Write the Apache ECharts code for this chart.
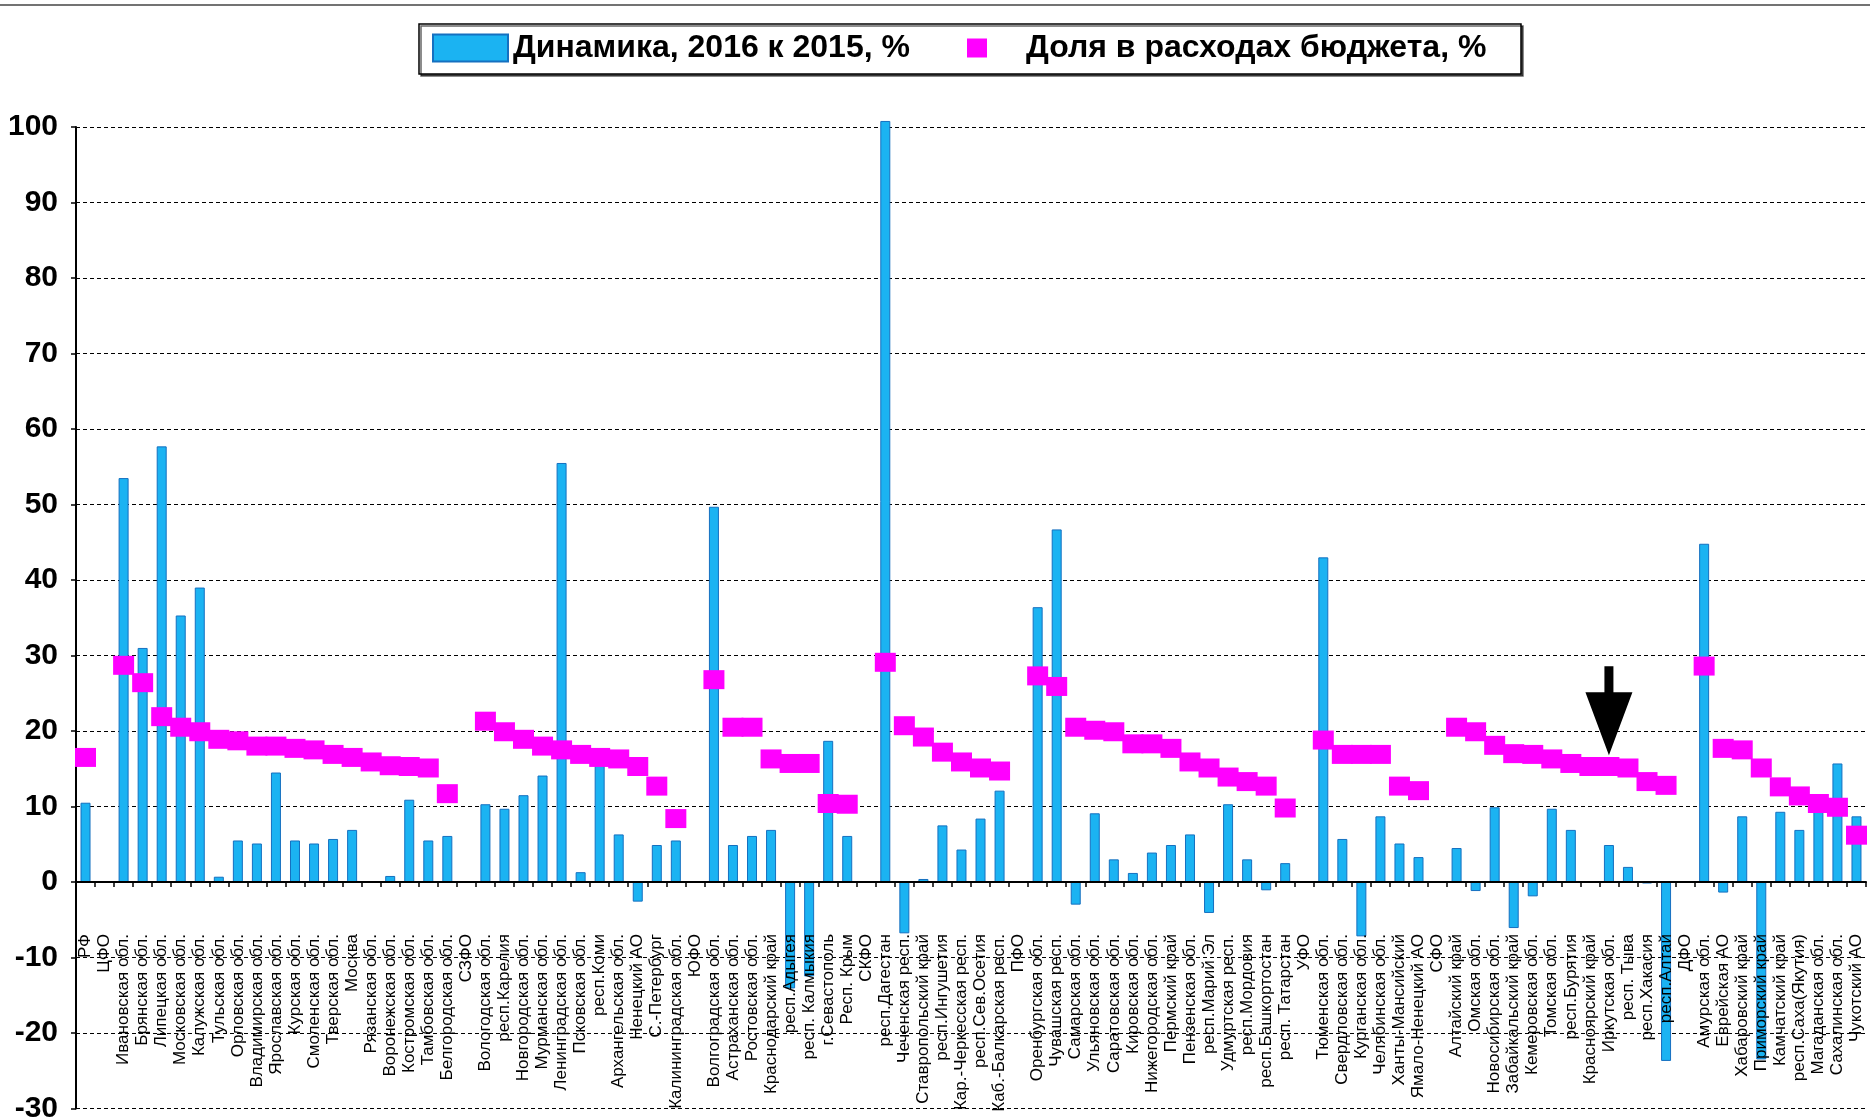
<!DOCTYPE html>
<html lang="ru">
<head>
<meta charset="utf-8">
<title>Динамика и доля в расходах бюджета</title>
<script src="https://cdn.jsdelivr.net/npm/echarts@6/dist/echarts.min.js"></script>
<style>
  html, body { margin: 0; padding: 0; background: #fff; }
  #chart { width: 1870px; height: 1117px; }
</style>
</head>
<body>
<div id="chart"></div>
<script>
const regions = [
  "РФ", "ЦФО", "Ивановская обл.", "Брянская обл.", "Липецкая обл.", "Московская обл.",
  "Калужская обл.", "Тульская обл.", "Орловская обл.", "Владимирская обл.", "Ярославская обл.",
  "Курская обл.", "Смоленская обл.", "Тверская обл.", "Москва", "Рязанская обл.",
  "Воронежская обл.", "Костромская обл.", "Тамбовская обл.", "Белгородская обл.", "СЗФО",
  "Вологодская обл.", "респ.Карелия", "Новгородская обл.", "Мурманская обл.",
  "Ленинградская обл.", "Псковская обл.", "респ.Коми", "Архангельская обл.", "Ненецкий АО",
  "С.-Петербург", "Калининградская обл.", "ЮФО", "Волгоградская обл.", "Астраханская обл.",
  "Ростовская обл.", "Краснодарский край", "респ.Адыгея", "респ. Калмыкия", "г.Севастополь",
  "Респ. Крым", "СКФО", "респ.Дагестан", "Чеченская респ.", "Ставропольский край",
  "респ.Ингушетия", "Кар.-Черкесская респ.", "респ.Сев.Осетия", "Каб.-Балкарская респ.", "ПФО",
  "Оренбургская обл.", "Чувашская респ.", "Самарская обл.", "Ульяновская обл.",
  "Саратовская обл.", "Кировская обл.", "Нижегородская обл.", "Пермский край",
  "Пензенская обл.", "респ.Марий Эл", "Удмуртская респ.", "респ.Мордовия",
  "респ.Башкортостан", "респ. Татарстан", "УФО", "Тюменская обл.", "Свердловская обл.",
  "Курганская обл.", "Челябинская обл.", "Ханты-Мансийский", "Ямало-Ненецкий АО", "СФО",
  "Алтайский край", "Омская обл.", "Новосибирская обл.", "Забайкальский край",
  "Кемеровская обл.", "Томская обл.", "респ.Бурятия", "Красноярский край", "Иркутская обл.",
  "респ. Тыва", "респ.Хакасия", "респ.Алтай", "ДФО", "Амурская обл.", "Еврейская АО",
  "Хабаровский край", "Приморский край", "Камчатский край", "респ.Саха(Якутия)",
  "Магаданская обл.", "Сахалинская обл.", "Чукотский АО"
];

// Динамика, 2016 к 2015, %
const dynamics = [
  10.5, null, 53.5, 31.0, 57.7, 35.3, 39.0, 0.7, 5.5, 5.1, 14.5, 5.5, 5.1, 5.7, 6.9, 0,
  0.8, 10.9, 5.5, 6.1, null, 10.3, 9.7, 11.5, 14.1, 55.5, 1.3, 15.7, 6.3, -2.6, 4.9, 5.5,
  null, 49.7, 4.9, 6.1, 6.9, -14.1, -12.5, 18.7, 6.1, null, 100.8, -6.8, 0.4, 7.5, 4.3, 8.4,
  12.1, null, 36.4, 46.7, -3.0, 9.1, 3.0, 1.2, 3.9, 4.9, 6.3, -4.1, 10.3, 3.0, -1.1, 2.5,
  null, 43.0, 5.7, -7.2, 8.7, 5.1, 3.3, null, 4.5, -1.2, 9.9, -6.1, -1.9, 9.7, 6.9, 0,
  4.9, 2.0, -0.2, -23.7, null, 44.8, -1.4, 8.7, -23.5, 9.3, 6.9, 10.2, 15.7, 8.7
];

// Доля в расходах бюджета, %
const budgetShare = [
  16.5, null, 28.7, 26.4, 21.9, 20.5, 19.9, 18.9, 18.7, 18.0, 18.0, 17.7, 17.5, 16.9, 16.5, 15.9,
  15.4, 15.3, 15.1, 11.7, null, 21.3, 19.9, 18.9, 18.0, 17.5, 16.9, 16.5, 16.3, 15.3, 12.7, 8.4,
  null, 26.8, 20.5, 20.5, 16.3, 15.7, 15.7, 10.4, 10.3, null, 29.1, 20.7, 19.2, 17.2, 15.9, 15.1,
  14.7, null, 27.3, 25.9, 20.5, 20.1, 19.9, 18.3, 18.3, 17.7, 15.9, 15.1, 13.9, 13.3, 12.7, 9.8,
  null, 18.8, 16.9, 16.9, 16.9, 12.7, 12.1, null, 20.5, 19.9, 18.1, 17.0, 16.9, 16.3, 15.7, 15.3,
  15.3, 15.1, 13.3, 12.8, null, 28.6, 17.7, 17.5, 15.1, 12.6, 11.4, 10.4, 9.9, 6.2
];

const seriesNames = ["Динамика, 2016 к 2015, %", "Доля в расходах бюджета, %"];

const yMin = -30;
const yMax = 100;

// стрелка над Иркутской областью
const arrowRegion = "Иркутская обл.";
const arrowTipValue = 16.8;

const FONT = "'Liberation Sans', Arial, sans-serif";

const gridTop = 127;
const gridBottom = 8.5;
const plotHeight = 1117 - gridTop - gridBottom;
// расстояние от нижнего края сетки до нулевой линии
const zeroLift = (plotHeight * (0 - yMin)) / (yMax - yMin);

const chart = echarts.init(document.getElementById("chart"));

const option = {
  backgroundColor: "#fff",
  animation: false,
  graphic: [
    {
      type: "line",
      shape: { x1: 0, y1: 5, x2: 1870, y2: 5 },
      style: { stroke: "#444", lineWidth: 1.5 },
      z: 0,
    },
    {
      type: "rect",
      shape: { x: 419, y: 24, width: 1102, height: 50 },
      style: {
        fill: "#fff",
        stroke: "#000",
        lineWidth: 1.5,
        shadowColor: "rgba(0,0,0,0.6)",
        shadowOffsetX: 2,
        shadowOffsetY: 2,
      },
      z: 0,
    },
  ],
  legend: [
    {
      data: [seriesNames[0]],
      left: 432,
      top: 32,
      padding: 0,
      icon: "rect",
      itemWidth: 75,
      itemHeight: 27,
      selectedMode: false,
      textStyle: {
        fontFamily: FONT,
        fontSize: 32,
        fontWeight: "bold",
        color: "#000",
      },
    },
    {
      data: [seriesNames[1]],
      left: 967,
      top: 32,
      padding: 0,
      icon: "rect",
      itemWidth: 20,
      itemHeight: 19,
      selectedMode: false,
      textStyle: {
        fontFamily: FONT,
        fontSize: 32,
        fontWeight: "bold",
        color: "#000",
        padding: [0, 0, 0, 34],
      },
    },
  ],
  grid: {
    left: 76,
    right: 4,
    top: gridTop,
    bottom: gridBottom,
    outerBoundsMode: "none",
  },
  xAxis: {
    type: "category",
    data: regions,
    position: "bottom",
    offset: -zeroLift,
    z: 5,
    axisLine: {
      onZero: false,
      lineStyle: { color: "#000", width: 2 },
    },
    axisTick: {
      show: true,
      length: 5,
      lineStyle: { color: "#000", width: 1.5 },
    },
    axisLabel: {
      show: true,
      interval: 0,
      rotate: 90,
      margin: 52,
      fontFamily: FONT,
      fontSize: 17,
      color: "#000",
    },
    splitLine: { show: false },
  },
  yAxis: {
    type: "value",
    min: yMin,
    max: yMax,
    interval: 10,
    axisLine: {
      show: true,
      lineStyle: { color: "#000", width: 2 },
    },
    axisTick: {
      show: true,
      length: 5,
      lineStyle: { color: "#000", width: 1.5 },
    },
    axisLabel: {
      margin: 18,
      fontFamily: FONT,
      fontSize: 30,
      fontWeight: "bold",
      color: "#000",
    },
    splitLine: {
      show: true,
      lineStyle: { color: "#000", width: 1, type: [4, 3] },
    },
  },
  series: [
    {
      name: seriesNames[0],
      type: "bar",
      data: dynamics,
      barWidth: 10,
      clip: false,
      itemStyle: {
        color: "#1BB3F2",
        borderColor: "#1570C0",
        borderWidth: 1,
      },
    },
    {
      name: seriesNames[1],
      type: "scatter",
      data: budgetShare,
      symbol: "rect",
      symbolSize: [21, 19],
      itemStyle: { color: "#FF00FF", opacity: 1 },
      z: 3,
      markPoint: {
        symbolKeepAspect: false,
        label: { show: false },
        data: [
          {
            coord: [arrowRegion, arrowTipValue],
            symbol: "path://M19,0 L28,0 L28,26 L47,26 L23.5,89 L0,26 L19,26 Z",
            symbolSize: [47, 89],
            symbolKeepAspect: false,
            symbolOffset: [0, -44.5],
            itemStyle: { color: "#000" },
          },
        ],
      },
    },
  ],
};

chart.setOption(option);
</script>
</body>
</html>
